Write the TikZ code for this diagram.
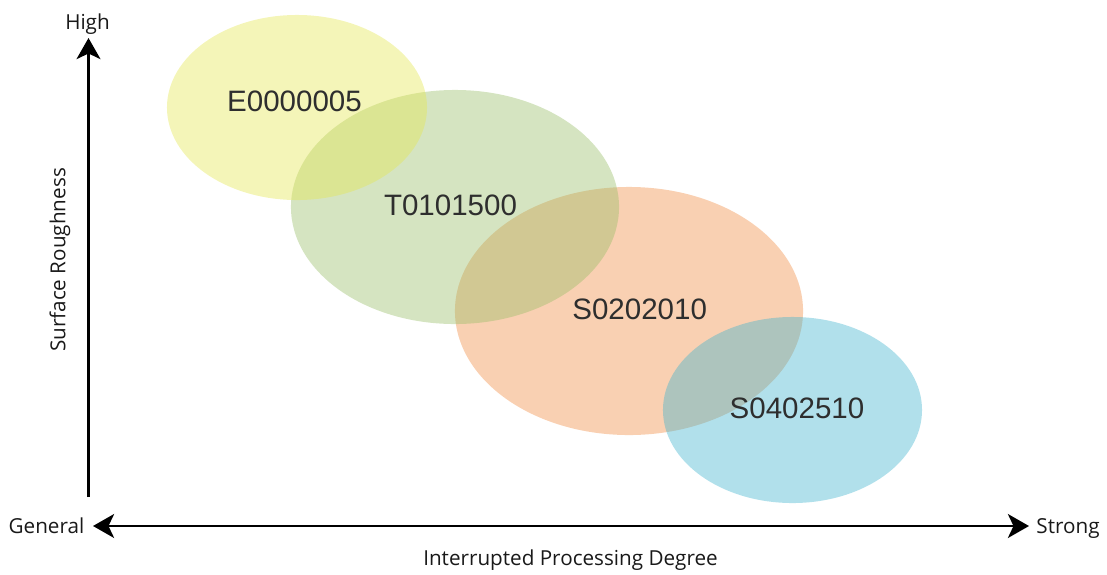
\documentclass[tikz,border=0pt]{standalone}
\usepackage{fontspec}
\setmainfont{Open Sans}
\newfontfamily\codefont{Liberation Sans}
\usepackage{xcolor}
\usepackage{tikz}
\usetikzlibrary{arrows.meta,positioning,shapes.geometric}
\definecolor{zoneyellow}{RGB}{228,230,78}
\definecolor{zonegreen}{RGB}{150,188,100}
\definecolor{zoneorange}{RGB}{240,138,63}
\definecolor{zoneblue}{RGB}{60,178,205}
\definecolor{inkdark}{HTML}{2E2E2E}

\begin{document}
\begin{tikzpicture}[x=0.025cm, y=-0.025cm,
    zone/.style={ellipse, draw=none, fill opacity=0.4, inner sep=0pt, outer sep=0pt},
    code_label/.style={font=\codefont\fontsize{21}{25}\selectfont, text=inkdark, inner sep=0pt},
    axis_text/.style={font=\fontsize{14.7}{18}\selectfont, text=black!90, inner sep=0pt},
    axis_arrow/.style={line width=1.9pt, draw=black, arrows={-Stealth[length=15pt, width=17pt, inset=4pt]}}
]
    \useasboundingbox (0,0) rectangle (1107,574);

    % Zones (bottom to top)
    \node[zone, fill=zoneorange, minimum width=8.7cm, minimum height=6.2cm] (zone_s2) at (629,311) {};
    \node[zone, fill=zoneblue, minimum width=6.475cm, minimum height=4.65cm] (zone_s4) at (792.5,410) {};
    \node[zone, fill=zonegreen, minimum width=8.2cm, minimum height=5.85cm] (zone_t) at (455,207) {};
    \node[zone, fill=zoneyellow, minimum width=6.5cm, minimum height=4.625cm] (zone_e) at (297,107.5) {};

    % Labels
    \node[code_label] (lab_e) at (294.5,101.5) {E0000005};
    \node[code_label] (lab_t) at (450.5,205) {T0101500};
    \node[code_label] (lab_s2) at (639.7,309) {S0202010};
    \node[code_label] (lab_s4) at (797,408) {S0402510};

    % Axes
    \coordinate (origin) at (88.5,497);
    \coordinate (y_top) at (88.5,38);
    \coordinate (x_left) at (93,526);
    \coordinate (x_right) at (1029,526);
    \draw[axis_arrow] (origin) -- (y_top);
    \draw[axis_arrow, arrows={Stealth[length=15pt, width=17pt, inset=4pt]-Stealth[length=15pt, width=17pt, inset=4pt]}] (x_left) -- (x_right);

    \node[axis_text, anchor=base] (high) at (87.5,29) {High};
    \node[axis_text, anchor=base] (general) at (46.5,533) {General};
    \node[axis_text, anchor=base] (strong) at (1068,533) {Strong};
    \node[axis_text, anchor=base] (x_title) at (570.5,565) {Interrupted Processing Degree};
    \node[axis_text, rotate=90] (y_title) at (60,260) {Surface Roughness};
\end{tikzpicture}
\end{document}
